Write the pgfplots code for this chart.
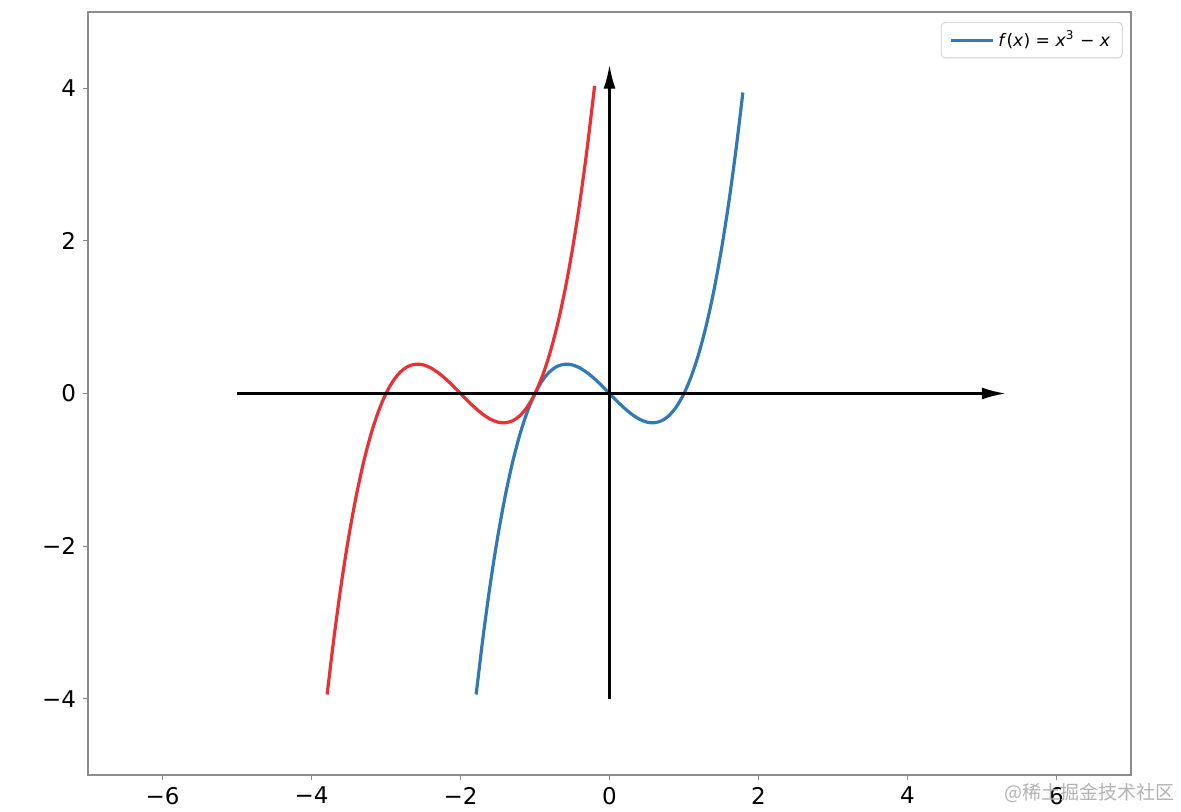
\documentclass[border=0pt]{standalone}
\usepackage{fontspec}
\setmainfont{DejaVu Sans}
\newfontfamily\cjk{Noto Sans CJK SC}
\usepackage{pgfplots}
\pgfplotsset{compat=1.18}
\usetikzlibrary{arrows.meta}
\definecolor{mplblue}{HTML}{3079B4}
\definecolor{mplred}{HTML}{EB3035}
\definecolor{spine}{HTML}{8C8C8C}

\begin{document}
\begin{tikzpicture}
\begin{axis}[
  scale only axis,
  width=521.5pt, height=381.5pt,
  xmin=-7, xmax=7, ymin=-5, ymax=5,
  axis line style={spine, line width=0.6pt},
  tick align=outside,
  major tick length=2.5pt,
  tick style={spine, line width=0.5pt},
  xtick={-6,-4,-2,0,2,4,6},
  xticklabels={−6,−4,−2,0,2,4,6},
  ytick={-4,-2,0,2,4},
  yticklabels={−4,−2,0,2,4},
  ticklabel style={font=\fontsize{11.5}{13}\selectfont},
  xtick pos=bottom, ytick pos=left,
  legend style={at={(0.992,0.987)}, anchor=north east, draw=black!20, rounded corners=2pt,
    font=\fontsize{8.6}{10}\selectfont, inner xsep=4pt, inner ysep=2pt,
    cells={anchor=west}},
  legend cell align=left,
  legend image code/.code={\draw[line width=1.5pt,mplblue] (0pt,0pt) -- (21pt,0pt);},
  clip=false,
]
\addplot[mplblue, line width=1.6pt, smooth] coordinates {
(-1.79,-3.945) (-1.7,-3.213) (-1.6,-2.496) (-1.5,-1.875) (-1.4,-1.344) (-1.3,-0.897)
(-1.2,-0.528) (-1.1,-0.231) (-1.0,0) (-0.9,0.171) (-0.8,0.288) (-0.7,0.357)
(-0.6,0.384) (-0.5,0.375) (-0.4,0.336) (-0.3,0.273) (-0.2,0.192) (-0.1,0.099)
(0,0) (0.1,-0.099) (0.2,-0.192) (0.3,-0.273) (0.4,-0.336) (0.5,-0.375)
(0.6,-0.384) (0.7,-0.357) (0.8,-0.288) (0.9,-0.171) (1.0,0) (1.1,0.231)
(1.2,0.528) (1.3,0.897) (1.4,1.344) (1.5,1.875) (1.6,2.496) (1.7,3.213) (1.79,3.945)
};
\addlegendentry{\textit{f}(\textit{x}) = \textit{x}\textsuperscript{3} − \textit{x}}
\addplot[mplred, line width=1.6pt, smooth, forget plot] coordinates {
(-3.79,-3.945) (-3.7,-3.213) (-3.6,-2.496) (-3.5,-1.875) (-3.4,-1.344) (-3.3,-0.897)
(-3.2,-0.528) (-3.1,-0.231) (-3.0,0) (-2.9,0.171) (-2.8,0.288) (-2.7,0.357)
(-2.6,0.384) (-2.5,0.375) (-2.4,0.336) (-2.3,0.273) (-2.2,0.192) (-2.1,0.099)
(-2,0) (-1.9,-0.099) (-1.8,-0.192) (-1.7,-0.273) (-1.6,-0.336) (-1.5,-0.375)
(-1.4,-0.384) (-1.3,-0.357) (-1.2,-0.288) (-1.1,-0.171) (-1.0,0) (-0.9,0.231)
(-0.8,0.528) (-0.7,0.897) (-0.6,1.344) (-0.5,1.875) (-0.4,2.496) (-0.3,3.213) (-0.2,4.032)
};
\addplot[black, line width=1.2pt, -{Latex[length=12pt,width=6pt]}, forget plot] coordinates {(-5,0) (5.32,0)};
\addplot[black, line width=1.2pt, -{Latex[length=12pt,width=6pt]}, forget plot] coordinates {(0,-4) (0,4.31)};
\end{axis}
\node[anchor=east, text=black!30, font=\cjk\fontsize{9.5}{11}\selectfont, inner sep=0pt]
  at ([xshift=22pt,yshift=-9pt]current axis.south east) {@稀土掘金技术社区};
\path ([xshift=-44pt,yshift=-17.5pt]current axis.south west) rectangle ([xshift=25pt,yshift=6pt]current axis.north east);
\end{tikzpicture}
\end{document}
